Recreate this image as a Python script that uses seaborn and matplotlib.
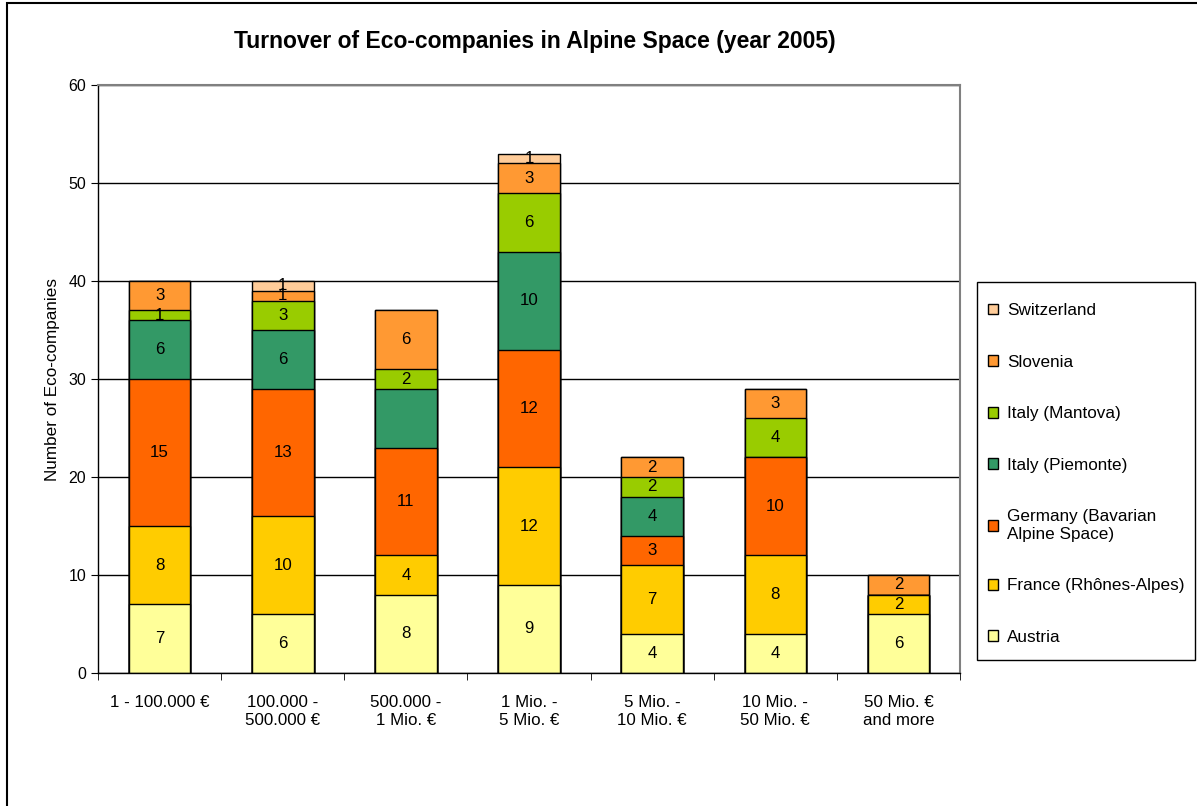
import numpy as np
import pandas as pd
import matplotlib
matplotlib.use("Agg")
import matplotlib.pyplot as plt
from matplotlib.patches import Rectangle
import seaborn as sns

# Data
categories = ["1 - 100.000 €", "100.000 -\n500.000 €", "500.000 -\n1 Mio. €",
              "1 Mio. -\n5 Mio. €", "5 Mio. -\n10 Mio. €", "10 Mio. -\n50 Mio. €",
              "50 Mio. €\nand more"]
series_names = ["Austria", "France (Rhônes-Alpes)", "Germany (Bavarian\nAlpine Space)",
                "Italy (Piemonte)", "Italy (Mantova)", "Slovenia", "Switzerland"]
austria = [7, 6, 8, 9, 4, 4, 6]
france = [8, 10, 4, 12, 7, 8, 2]
germany = [15, 13, 11, 12, 3, 10, 0]
piemonte = [6, 6, 6, 10, 4, 0, 0]
mantova = [1, 3, 2, 6, 2, 4, 0]
slovenia = [3, 1, 6, 3, 2, 3, 2]
switzerland = [0, 1, 0, 1, 0, 0, 0]
colors = ["#FFFF99", "#FFCC00", "#FF6600", "#339966", "#99CC00", "#FF9933", "#FFCC99"]
# the original chart leaves this one segment unlabelled
hidden_labels = [(2, "Italy (Piemonte)")]

values = np.array([austria, france, germany, piemonte, mantova, slovenia, switzerland])
cum = values.cumsum(axis=0)

plt.rcParams['font.family'] = ['Liberation Sans', 'DejaVu Sans']

fig = plt.figure(figsize=(11.97, 8.06), dpi=100)
ax = fig.add_axes([0.0819, 0.165, 0.7201, 0.7295])

# stacked bars: draw the cumulative totals from the top series down
for i in range(len(series_names) - 1, -1, -1):
    df = pd.DataFrame({"cat": categories, "val": cum[i]})
    sns.barplot(data=df, x="cat", y="val", ax=ax, color=colors[i], saturation=1,
                width=0.5, edgecolor="black", linewidth=1, errorbar=None, zorder=2)

# segment labels
for i, name in enumerate(series_names):
    for j in range(len(categories)):
        v = values[i, j]
        if v == 0 or (j, name) in hidden_labels:
            continue
        ax.text(j, cum[i, j] - v / 2, str(v), ha="center", va="center",
                fontsize=12.2, color="black", zorder=3)

ax.set_ylim(0, 60)
ax.set_xlim(-0.5, len(categories) - 0.5)
ax.set_yticks(range(0, 61, 10))
ax.set_axisbelow(True)
ax.yaxis.grid(True, color="black", linewidth=1)
ax.xaxis.grid(False)
ax.set_xlabel("")
ax.set_ylabel("Number of Eco-companies", fontsize=12.3, labelpad=6)
ax.tick_params(axis="y", labelsize=11.5, length=5, direction="out", color="black")
ax.tick_params(axis="x", which="major", length=0, labelsize=12.2, pad=16)
ax.set_xticks(np.arange(-0.5, len(categories), 1), minor=True)
ax.tick_params(axis="x", which="minor", length=5, direction="out", color="black")
for s in ["left", "bottom"]:
    ax.spines[s].set_color("black")
    ax.spines[s].set_linewidth(1)
for s in ["top", "right"]:
    ax.spines[s].set_color("#808080")
    ax.spines[s].set_linewidth(1.5)

fig.suptitle("Turnover of Eco-companies in Alpine Space (year 2005)",
             fontsize=16.5, fontweight="bold", x=0.447, y=0.963)

# legend, top series first; frame drawn separately
handles = [Rectangle((0, 0), 1, 1, facecolor=colors[i], edgecolor="black", linewidth=1)
           for i in range(len(series_names) - 1, -1, -1)]
labels = [series_names[i] for i in range(len(series_names) - 1, -1, -1)]
fig.legend(handles, labels, loc="upper left", bbox_to_anchor=(988 / 1197, 1 - 303 / 806),
           fontsize=12.3, frameon=False, handlelength=0.6, handleheight=0.6,
           handletextpad=0.5, labelspacing=2.14, borderpad=0, borderaxespad=0)
fig.patches.append(Rectangle((977 / 1197, 1 - 660 / 806), 218 / 1197, 378 / 806,
                             transform=fig.transFigure, fill=False,
                             edgecolor="black", linewidth=1))

# outer chart border
fig.patches.append(Rectangle((7 / 1197, -0.01), 1.0, 1 - 3 / 806 + 0.01,
                             transform=fig.transFigure, fill=False,
                             edgecolor="black", linewidth=1.5))

fig.savefig("out.png", dpi=100)
